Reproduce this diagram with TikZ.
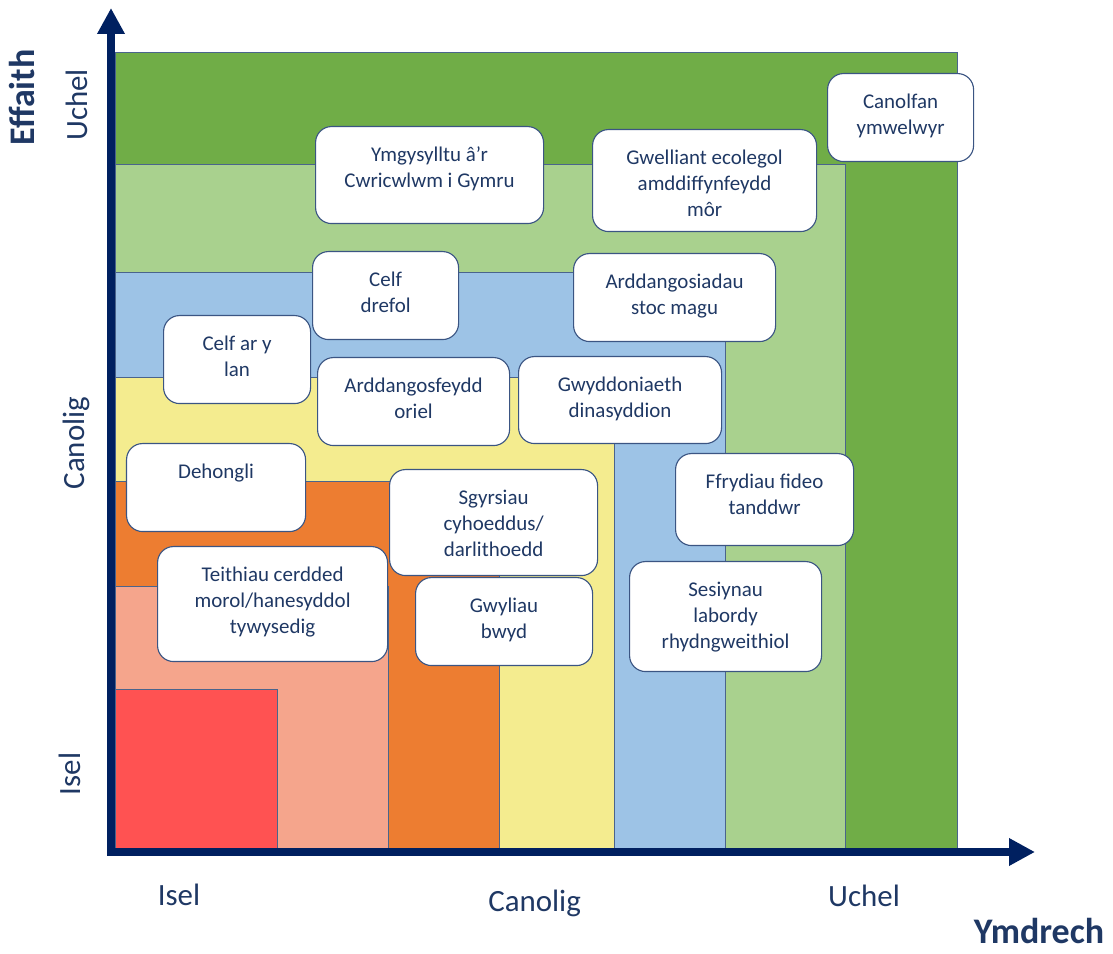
\documentclass[tikz,border=0pt]{standalone}
\usepackage{fontspec}
\setmainfont{Carlito}
\usetikzlibrary{arrows.meta}
\definecolor{navyaxis}{RGB}{0,32,96}
\definecolor{navytext}{RGB}{31,56,100}
\definecolor{zoneedge}{RGB}{74,100,140}
\definecolor{ideaedge}{RGB}{59,85,131}
\definecolor{zdarkgreen}{RGB}{112,173,71}
\definecolor{zlightgreen}{RGB}{169,209,142}
\definecolor{zblue}{RGB}{157,195,230}
\definecolor{zyellow}{RGB}{244,236,143}
\definecolor{zorange}{RGB}{237,125,49}
\definecolor{zsalmon}{RGB}{245,165,140}
\definecolor{zred}{RGB}{255,82,82}

\begin{document}
\begin{tikzpicture}[
  zone/.style={draw=zoneedge, line width=0.6pt},
  idea/.style={rectangle, rounded corners=0.4cm, draw=ideaedge, line width=0.8pt, fill=white, align=flush center, text=navytext, font=\fontsize{14.9}{18.5}\selectfont, inner sep=0pt, text height=0.875cm, anchor=north west},
  axis/.style={line width=0.2cm, color=navyaxis, line cap=rect, -{Triangle[length=0.65cm, width=0.65cm]}},
  level/.style={text=navytext, font=\fontsize{22}{26}\selectfont, inner sep=0pt, anchor=base},
  axtitle/.style={text=navytext, font=\fontsize{25.6}{30}\selectfont\bfseries, inner sep=0pt, anchor=base}
]
\useasboundingbox (-2.875,-2.65) rectangle (24.95,21.2);

% Nested effort/impact zones
\draw[zone, fill=zdarkgreen] (0,0) rectangle (21.05,19.9);
\draw[zone, fill=zlightgreen] (0,0) rectangle (18.25,17.1);
\draw[zone, fill=zblue] (0,0) rectangle (15.25,14.38);
\draw[zone, fill=zyellow] (0,0) rectangle (12.475,11.775);
\draw[zone, fill=zorange] (0,0) rectangle (9.6,9.175);
\draw[zone, fill=zsalmon] (0,0) rectangle (6.825,6.55);
\draw[zone, fill=zred] (0,0) rectangle (4.05,3.975);

% Axes
\coordinate (origin) at (-0.1,-0.1);
\coordinate (ytip) at (-0.1,21.0);
\coordinate (xtip) at (23.0,-0.1);
\draw[axis] (origin) -- (ytip);
\draw[axis] (origin) -- (xtip);

% Axis labels
\node[axtitle, rotate=90] (effaith) at (-2.0,18.76) {Effaith};
\node[level, rotate=90] (yuchel) at (-0.675,18.575) {Uchel};
\node[level, rotate=90] (ycanolig) at (-0.75,10.125) {Canolig};
\node[level, rotate=90] (yisel) at (-0.875,1.85) {Isel};
\node[level] (xisel) at (1.6,-1.45) {Isel};
\node[level] (xcanolig) at (10.49,-1.6) {Canolig};
\node[level] (xuchel) at (18.725,-1.475) {Uchel};
\node[axtitle] (ymdrech) at (23.1,-2.4) {Ymdrech};

% Activities
\node[idea, text width=5.7cm, text depth=1.55cm] (cwricwlwm) at (5.0,18.05) {Ymgysylltu â’r\\Cwricwlwm i Gymru};
\node[idea, text width=5.6cm, text depth=1.675cm] (ecoleg) at (11.925,17.975) {Gwelliant ecolegol\\amddiffynfeydd\\môr};
\node[idea, text width=3.65cm, text depth=1.325cm] (canolfan) at (17.8,19.375) {Canolfan\\ymwelwyr};
\node[idea, text width=3.65cm, text depth=1.325cm] (drefol) at (4.925,14.925) {Celf\\drefol};
\node[idea, text width=5.05cm, text depth=1.325cm] (stoc) at (11.45,14.875) {Arddangosiadau\\stoc magu};
\node[idea, text width=3.675cm, text depth=1.325cm] (celflan) at (1.2,13.325) {Celf ar y\\lan};
\node[idea, text width=4.8cm, text depth=1.325cm] (oriel) at (5.05,12.275) {Arddangosfeydd\\oriel};
\node[idea, text width=5.075cm, text depth=1.3cm] (gwyddoniaeth) at (10.075,12.3) {Gwyddoniaeth\\dinasyddion};
\node[idea, text width=4.475cm, text depth=1.325cm] (dehongli) at (0.275,10.125) {Dehongli};
\node[idea, text width=5.2cm, text depth=1.775cm] (sgyrsiau) at (6.85,9.475) {Sgyrsiau\\cyhoeddus/\\darlithoedd};
\node[idea, text width=5.75cm, text depth=2.0cm] (teithiau) at (1.05,7.55) {Teithiau cerdded\\morol/hanesyddol\\tywysedig};
\node[idea, text width=4.425cm, text depth=1.325cm] (gwyliau) at (7.5,6.775) {Gwyliau\\bwyd};
\node[idea, text width=4.45cm, text depth=1.425cm] (ffrydiau) at (14.0,9.875) {Ffrydiau fideo\\tanddwr};
\node[idea, text width=4.8cm, text depth=1.875cm] (sesiynau) at (12.85,7.175) {Sesiynau\\labordy\\rhydngweithiol};

\end{tikzpicture}
\end{document}
